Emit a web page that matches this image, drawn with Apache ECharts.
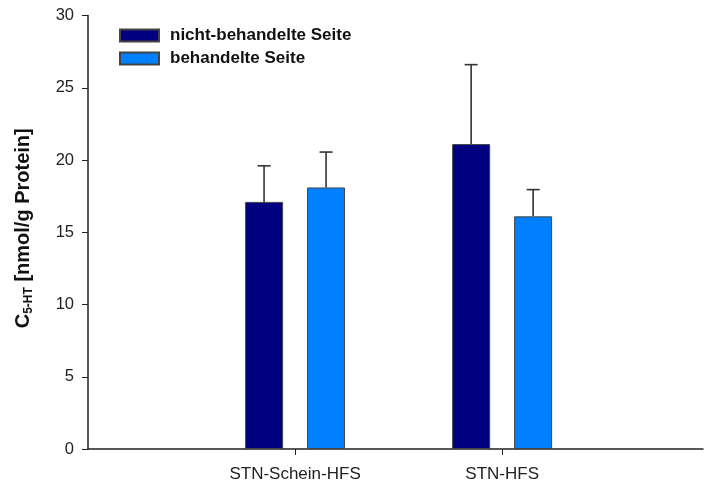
<!DOCTYPE html>
<html>
<head>
<meta charset="utf-8">
<script src="https://cdn.jsdelivr.net/npm/echarts@6/dist/echarts.min.js"></script>
<style>html,body{margin:0;padding:0;background:#fff}#c{width:704px;height:489px}</style>
</head>
<body>
<div id="c"></div>
<script>
var categories = ['STN-Schein-HFS', 'STN-HFS'];
var categoryPos = [1, 2];
var seriesNames = ['nicht-behandelte Seite', 'behandelte Seite'];
var untreated = [17.1, 21.1];
var untreatedErr = [2.5, 5.5];
var treated = [18.1, 16.1];
var treatedErr = [2.45, 1.85];
var yTicks = [0, 5, 10, 15, 20, 25, 30];

var BAR_W = 38, BAR_OFF = 31;
var FONT = 'Liberation Sans, Arial, Helvetica, sans-serif';

function pairs(vals) { return vals.map(function (v, i) { return [categoryPos[i], v]; }); }
function errData(vals, errs) { return vals.map(function (v, i) { return [categoryPos[i], v, v + errs[i]]; }); }
function errRender(offset) {
  return function (params, api) {
    var x = api.value(0);
    var p0 = api.coord([x, api.value(1)]);
    var p1 = api.coord([x, api.value(2)]);
    var cx = p0[0] + offset;
    var st = { stroke: '#333', lineWidth: 1.6 };
    return { type: 'group', children: [
      { type: 'line', shape: { x1: cx, y1: p0[1], x2: cx, y2: p1[1] }, style: st },
      { type: 'line', shape: { x1: cx - 6.5, y1: p1[1], x2: cx + 6.5, y2: p1[1] }, style: st }
    ]};
  };
}

var chart = echarts.init(document.getElementById('c'), null, { renderer: 'canvas' });
chart.setOption({
  animation: false,
  textStyle: { fontFamily: FONT },
  grid: { left: 88, right: 1, top: 15.5, bottom: 40, containLabel: false },
  legend: {
    left: 119, top: 27, padding: 0, orient: 'vertical', itemWidth: 39, itemHeight: 12, itemGap: 6,
    icon: 'rect',
    data: seriesNames,
    textStyle: { fontSize: 17, fontWeight: 'bold', color: '#111', fontFamily: FONT, padding: [0, 0, 0, 6] }
  },
  xAxis: {
    type: 'value', min: 0, max: 2.97, interval: 1,
    splitLine: { show: false },
    axisLine: { show: true, lineStyle: { color: '#222', width: 1.5 } },
    axisTick: { show: true, customValues: categoryPos, length: 6, lineStyle: { color: '#222' } },
    axisLabel: {
      customValues: categoryPos, fontSize: 17, color: '#222', margin: 17,
      formatter: function (v) { var i = categoryPos.indexOf(v); return i >= 0 ? categories[i] : ''; }
    }
  },
  yAxis: {
    type: 'value', min: 0, max: 30, interval: 5,
    splitLine: { show: false },
    axisLine: { show: true, lineStyle: { color: '#222', width: 1.5 } },
    axisTick: { show: true, length: 6, lineStyle: { color: '#222' } },
    axisLabel: { fontSize: 16.5, color: '#222', margin: 14, formatter: function (v) { return yTicks.indexOf(v) >= 0 ? String(v) : ''; } },
    name: '{c|C}{s|5-HT}{c| [nmol/g Protein]}',
    nameLocation: 'middle', nameRotate: 90, nameGap: 53,
    nameTextStyle: {
      padding: [0, 0, 0, 8],
      rich: {
        c: { fontSize: 20, fontWeight: 'bold', color: '#111', fontFamily: FONT, lineHeight: 24 },
        s: { fontSize: 12, fontWeight: 'bold', color: '#111', fontFamily: FONT, verticalAlign: 'bottom', lineHeight: 18 }
      }
    }
  },
  series: [
    { name: seriesNames[0], type: 'bar', data: pairs(untreated), barWidth: BAR_W, barGap: '63%',
      itemStyle: { color: '#000080', borderColor: '#444', borderWidth: 1 } },
    { name: seriesNames[1], type: 'bar', data: pairs(treated), barWidth: BAR_W, barGap: '63%',
      itemStyle: { color: '#0080FF', borderColor: '#444', borderWidth: 1 } },
    { type: 'custom', data: errData(untreated, untreatedErr), renderItem: errRender(-BAR_OFF), z: 3 },
    { type: 'custom', data: errData(treated, treatedErr), renderItem: errRender(BAR_OFF), z: 3 }
  ]
});
</script>
</body>
</html>
